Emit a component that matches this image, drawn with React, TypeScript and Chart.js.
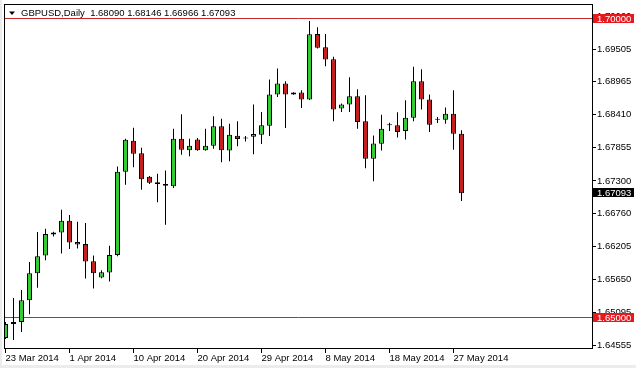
import { useEffect, useRef } from "react";
import { Chart, registerables } from "chart.js";

Chart.register(...registerables);

// ---- data ----
const titleSymbol = "GBPUSD,Daily";
const opens = [
  1.64672, 1.64907, 1.64941, 1.65305, 1.65758, 1.66053, 1.66406, 1.66439, 1.66636, 1.66278,
  1.66245, 1.65959, 1.65684, 1.65768, 1.6606, 1.67453, 1.67973, 1.67765, 1.67369, 1.67278,
  1.67251, 1.67211, 1.68007, 1.67815, 1.67995, 1.67815, 1.67889, 1.68213, 1.6781, 1.68057,
  1.68012, 1.6804, 1.68074, 1.68225, 1.68745, 1.68929, 1.68745, 1.68778, 1.68661, 1.69757,
  1.69534, 1.69337, 1.6851, 1.68577, 1.68716, 1.68297, 1.67671, 1.67923, 1.6823, 1.6823,
  1.68134, 1.68359, 1.68968, 1.68661, 1.68325, 1.68325, 1.68426, 1.6809,
];
const highs = [
  1.64941, 1.65344, 1.65478, 1.65943, 1.66446, 1.66501, 1.66451, 1.6682, 1.66731, 1.66619,
  1.66597, 1.66053, 1.65808, 1.66216, 1.67542, 1.68007, 1.68191, 1.67856, 1.67385, 1.67419,
  1.67475, 1.68174, 1.68414, 1.68007, 1.68017, 1.68174, 1.68381, 1.68342, 1.68258, 1.68297,
  1.6805, 1.68577, 1.68453, 1.68997, 1.69181, 1.68968, 1.68783, 1.68817, 1.69975, 1.69869,
  1.69757, 1.69376, 1.68594, 1.69035, 1.68834, 1.68733, 1.68062, 1.68409, 1.68275, 1.68448,
  1.68649, 1.69208, 1.69169, 1.68745, 1.68369, 1.68527, 1.68817, 1.68146,
];
const lows = [
  1.64656, 1.64639, 1.64773, 1.6507, 1.65516, 1.65976, 1.66372, 1.66087, 1.66161, 1.66171,
  1.65667, 1.655, 1.65674, 1.65617, 1.66043, 1.67235, 1.6753, 1.67151, 1.67251, 1.66943,
  1.66568, 1.67184, 1.67738, 1.67715, 1.67805, 1.67805, 1.67839, 1.67614, 1.67631, 1.67882,
  1.67961, 1.67748, 1.67916, 1.6805, 1.68705, 1.68184, 1.68741, 1.6852, 1.68653, 1.69517,
  1.6922, 1.68297, 1.68453, 1.68453, 1.68174, 1.67513, 1.67295, 1.6781, 1.68134, 1.68028,
  1.67995, 1.68297, 1.68493, 1.68117, 1.68268, 1.68258, 1.67822, 1.66966,
];
const closes = [
  1.64907, 1.64941, 1.65305, 1.65758, 1.66043, 1.66412, 1.66439, 1.66636, 1.66271, 1.66238,
  1.65953, 1.65758, 1.65775, 1.6606, 1.67453, 1.6799, 1.67755, 1.67329, 1.67268, 1.67251,
  1.67218, 1.68007, 1.67822, 1.67889, 1.67815, 1.67889, 1.68213, 1.67815, 1.68074, 1.68,
  1.68012, 1.68084, 1.6823, 1.68745, 1.68929, 1.68745, 1.68778, 1.68661, 1.69752, 1.69527,
  1.69332, 1.68493, 1.68577, 1.68716, 1.68285, 1.67671, 1.67928, 1.68174, 1.6823, 1.68117,
  1.68359, 1.68968, 1.68661, 1.68241, 1.68325, 1.68426, 1.6809, 1.67093,
];
const dateTickIndexes = [0, 8, 16, 24, 32, 40, 48, 56];
const dateTickLabels = [
  "23 Mar 2014", "1 Apr 2014", "10 Apr 2014", "20 Apr 2014",
  "29 Apr 2014", "8 May 2014", "18 May 2014", "27 May 2014",
];
const priceTicks = [
  1.7006, 1.69505, 1.68965, 1.6841, 1.67855, 1.673, 1.6676, 1.66205, 1.6565, 1.65095, 1.64555,
];
const levelLines = [1.7, 1.65];

// ---- style ----
const FONT = "'Liberation Sans', Arial, sans-serif";
const GREEN = "#32cd32";
const RED = "#c81e1e";
const LINE_RED = "#c42a2a";
const BOX_RED = "#e8191e";
const Y_MAX = 1.7 + 15.5 / 5980;
const Y_MIN = Y_MAX - 345 / 5980;
const X_MIN = -1.5 / 8;
const X_MAX = X_MIN + 589 / 8;

export default function App() {
  const ref = useRef<HTMLCanvasElement>(null);

  useEffect(() => {
    const canvas = ref.current;
    if (!canvas) return;
    const idx = closes.map((_, i) => i);
    const bodyColors = idx.map((i) =>
      closes[i] > opens[i] ? GREEN : closes[i] < opens[i] ? RED : "#000000"
    );
    const last = closes[closes.length - 1];

    const overlay = {
      id: "mt4overlay",
      beforeDraw(chart: any) {
        const c = chart.ctx;
        c.save();
        c.fillStyle = "#ffffff";
        c.fillRect(0, 0, chart.width, chart.height);
        c.fillStyle = "#ececec";
        c.fillRect(0, 365, chart.width, 3);
        c.fillRect(0, 0, 2, chart.height);
        c.restore();
      },
      beforeDatasetsDraw(chart: any) {
        const c = chart.ctx;
        const a = chart.chartArea;
        const y = chart.scales.y;
        c.save();
        c.strokeStyle = LINE_RED;
        c.lineWidth = 1;
        levelLines.forEach((v) => {
          const py = Math.round(y.getPixelForValue(v)) - 0.5;
          c.beginPath();
          c.moveTo(a.left, py);
          c.lineTo(a.right, py);
          c.stroke();
        });
        c.restore();
      },
      afterDraw(chart: any) {
        const c = chart.ctx;
        const a = chart.chartArea;
        const y = chart.scales.y;
        c.save();
        // frame
        c.strokeStyle = "#000";
        c.lineWidth = 1;
        c.strokeRect(a.left + 0.5, a.top + 0.5, a.right - a.left - 1, a.bottom - a.top - 1);
        // title
        c.fillStyle = "#000";
        c.beginPath();
        c.moveTo(9, 11.5);
        c.lineTo(15, 11.5);
        c.lineTo(12, 15);
        c.closePath();
        c.fill();
        c.font = `9.5px ${FONT}`;
        c.textBaseline = "middle";
        c.textAlign = "left";
        const ohlc = [opens, highs, lows, closes]
          .map((arr) => arr[arr.length - 1].toFixed(5))
          .join(" ");
        c.fillText(`${titleSymbol}  ${ohlc}`, 21, 13);
        // price boxes on the axis
        const box = (v: number, bg: string) => {
          const py = Math.round(y.getPixelForValue(v));
          c.fillStyle = bg;
          c.fillRect(a.right, py - 5, 41, 9);
          c.fillStyle = "#fff";
          c.fillText(v.toFixed(5), a.right + 4, py);
        };
        levelLines.forEach((v) => box(v, BOX_RED));
        box(last, "#000");
        c.restore();
      },
    };

    const chart = new Chart(canvas, {
      type: "bar",
      data: {
        datasets: [
          {
            label: "wick",
            data: idx.map((i) => ({ x: i, y: [lows[i], highs[i]] })) as any,
            backgroundColor: "#000000",
            borderWidth: 0,
            barThickness: 1,
            grouped: false,
            inflateAmount: 0,
            order: 2,
          } as any,
          {
            label: "body",
            data: idx.map((i) => ({ x: i, y: [opens[i], closes[i]] })) as any,
            backgroundColor: bodyColors,
            borderColor: "#000000",
            borderWidth: 1,
            borderSkipped: false,
            barThickness: 5,
            minBarLength: 1,
            grouped: false,
            inflateAmount: 0,
            order: 1,
          } as any,
        ],
      },
      options: {
        animation: false,
        responsive: false,
        maintainAspectRatio: false,
        events: [],
        layout: { padding: { left: 4, top: 4, right: 0, bottom: 0 } },
        plugins: { legend: { display: false }, tooltip: { enabled: false } },
        scales: {
          x: {
            type: "linear",
            min: X_MIN,
            max: X_MAX,
            offset: false,
            afterBuildTicks: (s: any) => {
              s.ticks = dateTickIndexes.map((v) => ({ value: v }));
            },
            afterFit: (s: any) => {
              s.height = 19;
              s.paddingLeft = 0;
              s.paddingRight = 0;
              s.paddingTop = 0;
              s.paddingBottom = 0;
            },
            grid: { drawOnChartArea: false, tickLength: 4, color: "#000", offset: false },
            border: { display: false },
            ticks: {
              align: "start",
              padding: 0,
              maxRotation: 0,
              autoSkip: false,
              color: "#000",
              font: { family: FONT, size: 9.5 },
              callback: (v: any) => {
                const k = dateTickIndexes.indexOf(Number(v));
                return k >= 0 ? dateTickLabels[k] : "";
              },
            },
          },
          y: {
            type: "linear",
            position: "right",
            min: Y_MIN,
            max: Y_MAX,
            afterBuildTicks: (s: any) => {
              s.ticks = priceTicks.map((v) => ({ value: v }));
            },
            afterFit: (s: any) => {
              s.width = 43;
              s.paddingLeft = 0;
              s.paddingRight = 0;
              s.paddingTop = 0;
              s.paddingBottom = 0;
            },
            grid: { drawOnChartArea: false, tickLength: 3, color: "#000" },
            border: { display: false },
            ticks: {
              padding: 1,
              autoSkip: false,
              color: "#000",
              font: { family: FONT, size: 9.5 },
              callback: (v: any) => Number(v).toFixed(5),
            },
          },
        },
      } as any,
      plugins: [overlay],
    });

    return () => chart.destroy();
  }, []);

  return (
    <div style={{ position: "fixed", left: 0, top: 0, width: 636, height: 368 }}>
      <canvas ref={ref} width={636} height={368} style={{ display: "block", width: 636, height: 368 }} />
    </div>
  );
}
